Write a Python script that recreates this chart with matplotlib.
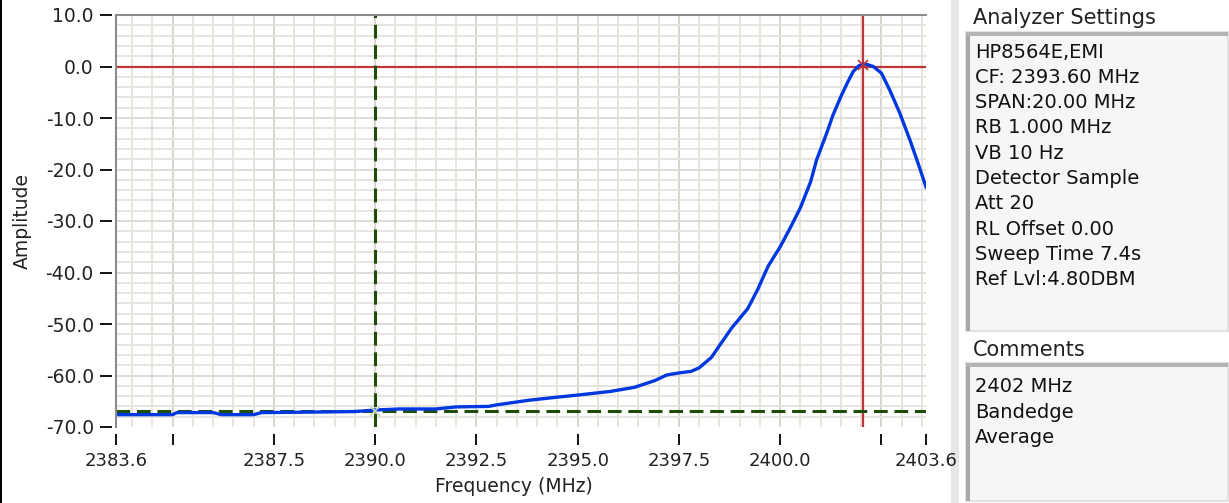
import matplotlib
matplotlib.use("Agg")
import matplotlib.pyplot as plt
from matplotlib.patches import Rectangle

# trace
freq = [2383.6, 2385.0, 2385.1, 2386.0, 2386.2, 2387.0, 2387.2, 2388.5, 2389.5,
        2390.0, 2390.6, 2391.5, 2392.0, 2392.8, 2393.0, 2393.8, 2394.5, 2395.0,
        2395.8, 2396.4, 2396.9, 2397.2, 2397.5, 2397.8, 2398.0, 2398.3, 2398.5,
        2398.8, 2399.2, 2399.45, 2399.7, 2400.0, 2400.25, 2400.5, 2400.75, 2400.9,
        2401.15, 2401.3, 2401.5, 2401.65, 2401.8, 2401.95, 2402.1, 2402.3, 2402.5,
        2402.7, 2402.95, 2403.2, 2403.4, 2403.6]
amp = [-67.6, -67.6, -67.2, -67.2, -67.6, -67.6, -67.2, -67.1, -67.0,
       -66.7, -66.5, -66.5, -66.1, -66.0, -65.7, -64.8, -64.2, -63.8,
       -63.1, -62.3, -61.0, -59.9, -59.5, -59.2, -58.5, -56.5, -54.2,
       -50.8, -47.0, -43.2, -38.8, -35.0, -31.3, -27.4, -22.4, -18.1,
       -12.9, -9.5, -5.8, -3.3, -1.0, 0.2, 0.5, 0.0, -1.3,
       -4.5, -9.0, -14.2, -18.7, -23.4]

marker1 = (2402.05, 0.2)     # red cursor at the peak
marker2 = (2390.0, -66.8)    # green cursor at the band edge

xticks = [2383.6, 2385.0, 2387.5, 2390.0, 2392.5, 2395.0, 2397.5, 2400.0, 2402.5, 2403.6]
xticklabels = ["2383.6", "", "2387.5", "2390.0", "2392.5", "2395.0", "2397.5", "2400.0", "", "2403.6"]
yticks = [10, 0, -10, -20, -30, -40, -50, -60, -70]

settings = ["HP8564E,EMI", "CF: 2393.60 MHz", "SPAN:20.00 MHz", "RB 1.000 MHz",
            "VB 10 Hz", "Detector Sample", "Att 20", "RL Offset 0.00",
            "Sweep Time 7.4s", "Ref Lvl:4.80DBM"]
comments = ["2402 MHz", "Bandedge", "Average"]

W, H = 1229, 503
fig = plt.figure(figsize=(W / 100, H / 100), dpi=100)
fig.patch.set_facecolor("white")


def fx(x):
    return x / W


def fy(y):
    return 1 - y / H


ax = fig.add_axes([fx(116), fy(427), fx(926) - fx(116), fy(15) - fy(427)])
ax.set_xlim(2383.6, 2403.6)
ax.set_ylim(-70, 10)

# grid: minor every 0.5 MHz / 2 dB, major on the ticks
minor_x = [2383.5 + 0.5 * i for i in range(1, 41)]
for x in minor_x:
    major = abs((x - 2385.0) / 2.5 - round((x - 2385.0) / 2.5)) < 1e-6
    ax.axvline(x, color="#d6d2cb" if major else "#e6e3dd", lw=1.3, zorder=0)
for y in range(-68, 10, 2):
    ax.axhline(y, color="#dcd8d2" if y % 10 == 0 else "#e6e3dd", lw=1.3, zorder=0)

# plot frame, only left and top as on the screen
ax.axvline(2383.6, color="#8c8c8c", lw=1.5, zorder=5, clip_on=False)
ax.axhline(10, color="#8c8c8c", lw=1.5, zorder=5, clip_on=False)

# cursors
ax.axhline(marker1[1] - 0.2, color="#c03535", lw=1.6, zorder=2)
ax.axvline(marker1[0], color="#c03535", lw=1.6, zorder=2)
ax.axhline(marker2[1], color="#1e4d0a", lw=2.2, ls=(0, (4.5, 2.2)), zorder=3)
ax.axvline(marker2[0], color="#1e4d0a", lw=2.2, ls=(0, (4.5, 2.2)), zorder=3)

ax.plot(freq, amp, color="#0038e0", lw=2.4, zorder=4)
ax.plot(*marker1, marker="x", color="#c03535", ms=7, mew=1.2, zorder=6)
ax.plot(*marker2, marker="x", color="#c8d8c0", ms=7, mew=1.2, zorder=6)

for s in ax.spines.values():
    s.set_visible(False)
ax.spines["bottom"].set_position(("outward", 5))
ax.spines["left"].set_position(("outward", 3))

ax.set_xticks(xticks)
ax.set_xticklabels(xticklabels)
ax.set_yticks(yticks)
ax.set_yticklabels([f"{v:.1f}" for v in yticks])
ax.tick_params(axis="x", length=8, width=1.3, color="black", pad=5, labelsize=13, labelcolor="#222222")
ax.tick_params(axis="y", length=9, width=1.3, color="black", pad=4, labelsize=13.5, labelcolor="#222222")

fig.text(fx(22), fy(221), "Amplitude", rotation=90, ha="center", va="center",
         fontsize=13.5, color="#222222")
fig.text(fx(514), fy(487), "Frequency (MHz)", ha="center", va="center",
         fontsize=13.5, color="#222222")

# left edge and separator of the panel (kept under the axes)
fig.patches.append(Rectangle((0, 0), fx(2), 1, transform=fig.transFigure,
                             facecolor="black", edgecolor="none", zorder=-1))
fig.patches.append(Rectangle((fx(951), 0), fx(8), 1, transform=fig.transFigure,
                             facecolor="#e6e6e6", edgecolor="none", zorder=-1))


def box(x0, y0, x1, y1):
    fig.patches.append(Rectangle((fx(x0), fy(y1)), fx(x1 - x0), fy(y0) - fy(y1),
                                 transform=fig.transFigure, facecolor="#f6f6f6",
                                 edgecolor="#e2e2e2", lw=1.5))
    fig.patches.append(Rectangle((fx(x0), fy(y1)), fx(4), fy(y0) - fy(y1),
                                 transform=fig.transFigure, facecolor="#a8a8a8",
                                 edgecolor="none"))
    fig.patches.append(Rectangle((fx(x0), fy(y0 + 4)), fx(x1 - x0), fy(y0) - fy(y0 + 4),
                                 transform=fig.transFigure, facecolor="#b4b4b4",
                                 edgecolor="none"))


box(966, 32, 1228, 331)
box(966, 363, 1228, 501)

fig.text(fx(973), fy(18), "Analyzer Settings", ha="left", va="center", fontsize=15, color="#222222")
for i, line in enumerate(settings):
    fig.text(fx(975), fy(52 + 25.3 * i), line, ha="left", va="center", fontsize=14, color="#111111")
fig.text(fx(973), fy(350), "Comments", ha="left", va="center", fontsize=15, color="#222222")
for i, line in enumerate(comments):
    fig.text(fx(975), fy(387 + 25.3 * i), line, ha="left", va="center", fontsize=14, color="#111111")

fig.savefig("out.png", dpi=100)
